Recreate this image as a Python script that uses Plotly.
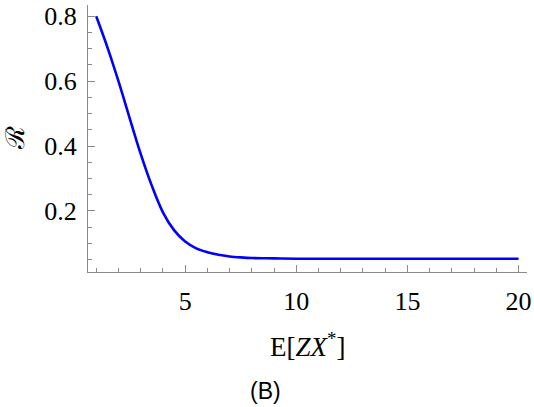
import plotly.graph_objects as go

x_vals = [1, 1.5, 2, 2.5, 3, 3.5, 4, 4.5, 5, 5.5, 6, 6.5, 7, 7.5, 8, 9, 10, 12, 14, 16, 18, 20]
r_vals = [0.800, 0.705, 0.600, 0.487, 0.376, 0.278, 0.196, 0.141, 0.106, 0.085, 0.073, 0.065,
          0.060, 0.057, 0.055, 0.054, 0.053, 0.053, 0.053, 0.053, 0.053, 0.053]
x_ticks = [5, 10, 15, 20]
y_ticks = [0.2, 0.4, 0.6, 0.8]

W, H = 534, 407
L, R, T, B = 88, 7, 2, 135
SERIF = "Liberation Serif"

fig = go.Figure()
fig.add_trace(go.Scatter(x=x_vals, y=r_vals, mode="lines",
                         line=dict(color="#0000ff", width=2.6, shape="spline", smoothing=1.0),
                         showlegend=False, hoverinfo="skip"))

tickfont = dict(family=SERIF, size=26, color="black")
axcol = "#8a8a8a"
fig.update_xaxes(range=[0.63, 20.38], showgrid=False, zeroline=False,
                 showline=True, linecolor=axcol, linewidth=1.2,
                 tickmode="array", tickvals=x_ticks, ticktext=[str(v) for v in x_ticks],
                 ticks="inside", ticklen=7, tickcolor=axcol, tickwidth=1,
                 minor=dict(ticks="inside", ticklen=4, tickcolor=axcol, dtick=1, tick0=0, showgrid=False),
                 tickfont=tickfont, ticklabelstandoff=6)
fig.update_yaxes(range=[0.012, 0.8346], showgrid=False, zeroline=False,
                 showline=True, linecolor=axcol, linewidth=1.2,
                 tickmode="array", tickvals=y_ticks, ticktext=["0.2", "0.4", "0.6", "0.8"],
                 ticks="inside", ticklen=7, tickcolor=axcol, tickwidth=1,
                 minor=dict(ticks="inside", ticklen=4, tickcolor=axcol, dtick=0.05, tick0=0, showgrid=False),
                 tickfont=tickfont, ticklabelstandoff=5, ticklabeloverflow="allow")

pw = W - L - R
ph = H - T - B
def px(xp):
    return (xp - L) / pw
def py(yp):
    return (H - B - yp) / ph

fig.add_annotation(text="E[<i>ZX</i><sup>*</sup>]", xref="paper", yref="paper",
                   x=px(307), y=py(346), xanchor="center", yanchor="middle",
                   showarrow=False, font=dict(family=SERIF, size=27, color="black"))
fig.add_annotation(text="ℛ", xref="paper", yref="paper",
                   x=px(15), y=py(136), xanchor="center", yanchor="middle",
                   textangle=-90, showarrow=False,
                   font=dict(family="DejaVu Serif", size=26, color="black"))
fig.add_annotation(text="(B)", xref="paper", yref="paper",
                   x=px(265), y=py(392), xanchor="center", yanchor="middle",
                   showarrow=False, font=dict(family="Liberation Sans", size=23, color="black"))

fig.update_layout(width=W, height=H, margin=dict(l=L, r=R, t=T, b=B),
                  font=dict(family=SERIF, size=26, color="black"),
                  paper_bgcolor="white", plot_bgcolor="white")
fig.write_html("out.html")
